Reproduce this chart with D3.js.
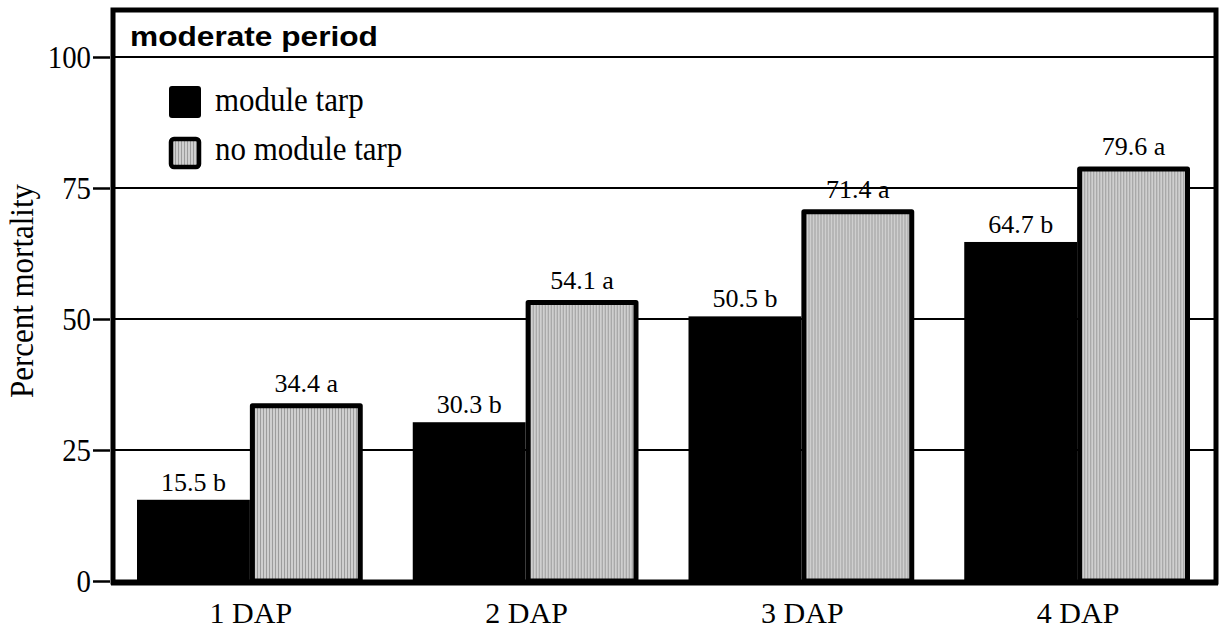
<!DOCTYPE html>
<html>
<head>
<meta charset="utf-8">
<script src="https://cdn.jsdelivr.net/npm/d3@7"></script>
<style>
  body { margin: 0; background: #fff; }
  svg { display: block; }
</style>
</head>
<body>
<script>
const categories = ["1 DAP", "2 DAP", "3 DAP", "4 DAP"];
const seriesNames = ["module tarp", "no module tarp"];
const tarpValues = [15.5, 30.3, 50.5, 64.7];
const noTarpValues = [34.4, 54.1, 71.4, 79.6];
const tarpLetters = ["b", "b", "b", "b"];
const noTarpLetters = ["a", "a", "a", "a"];
const yTicks = [0, 25, 50, 75, 100];
const panelTitle = "moderate period";

const serif = "'Liberation Serif', 'Times New Roman', Times, serif";
const sans = "'Liberation Sans', Arial, Helvetica, sans-serif";

const W = 1219, H = 631;
const margin = {top: 8, right: 3, bottom: 49, left: 113};
const plotW = W - margin.left - margin.right,
      plotH = H - margin.top - margin.bottom;

// the reference type is a little narrower (or wider) than its height
function squeeze(sel, f) {
  sel.each(function() {
    const w = this.getComputedTextLength();
    d3.select(this).attr("textLength", w * f).attr("lengthAdjust", "spacingAndGlyphs");
  });
}

const svg = d3.select("body").append("svg")
    .attr("width", W).attr("height", H);

const defs = svg.append("defs");
const pat = defs.append("pattern")
    .attr("id", "stripes")
    .attr("patternUnits", "userSpaceOnUse")
    .attr("width", 3).attr("height", 3);
pat.append("rect").attr("width", 3).attr("height", 3).attr("fill", "#cfcfcf");
pat.append("rect").attr("width", 1).attr("height", 3).attr("fill", "#9c9c9c");

const chart = svg.append("g")
    .attr("transform", "translate(" + margin.left + "," + margin.top + ")");

// y: 0 at the axis line, 100 at the header divider
const yScale = d3.scaleLinear().domain([0, 100]).range([plotH - 1, 49]);

const xScale = d3.scaleBand().domain(categories).range([0, plotW]).padding(0);
const inner = d3.scaleBand().domain(seriesNames).range([24, xScale.bandwidth() - 26]).padding(0);

// gridlines
chart.selectAll(".grid")
    .data(yTicks.filter(d => d > 0))
    .enter().append("line")
    .attr("x1", 0).attr("x2", plotW)
    .attr("y1", d => yScale(d)).attr("y2", d => yScale(d))
    .attr("stroke", "#000").attr("stroke-width", 2);

const rows = categories.map((c, i) => ({
  cat: c,
  bars: [
    {s: seriesNames[0], v: tarpValues[i], l: tarpLetters[i]},
    {s: seriesNames[1], v: noTarpValues[i], l: noTarpLetters[i]}
  ]
}));

const groups = chart.selectAll(".grp")
    .data(rows).enter().append("g")
    .attr("transform", d => "translate(" + xScale(d.cat) + ",0)");

// black bars are plain; grey bars carry a thick outline drawn inside
groups.selectAll("rect")
    .data(d => d.bars).enter().append("rect")
    .attr("x", d => d.s === seriesNames[0] ? inner(d.s) : inner(d.s) + 2.5)
    .attr("y", d => d.s === seriesNames[0] ? yScale(d.v) : yScale(d.v) + 5)
    .attr("width", d => d.s === seriesNames[0] ? inner.bandwidth() : inner.bandwidth() - 5)
    .attr("height", d => d.s === seriesNames[0] ? yScale(0) - yScale(d.v) : yScale(0) - yScale(d.v) - 5)
    .attr("fill", d => d.s === seriesNames[0] ? "#000" : "url(#stripes)")
    .attr("stroke", d => d.s === seriesNames[0] ? "none" : "#000")
    .attr("stroke-width", 5)
    .attr("stroke-linejoin", "round");

groups.selectAll(".vlab")
    .data(d => d.bars).enter().append("text")
    .attr("x", d => inner(d.s) + inner.bandwidth() / 2)
    .attr("y", d => yScale(d.v) - 9)
    .attr("text-anchor", "middle")
    .style("font-family", serif)
    .style("font-size", "26px")
    .text(d => d.v.toFixed(1) + " " + d.l);

// header strip
const title = chart.append("text")
    .attr("x", 17).attr("y", 38)
    .style("font-family", sans)
    .style("font-weight", "bold")
    .style("font-size", "28px")
    .text(panelTitle);
squeeze(title, 1.13);

// frame
chart.append("rect")
    .attr("x", 0).attr("y", 2)
    .attr("width", plotW).attr("height", plotH - 2)
    .attr("fill", "none").attr("stroke", "#000").attr("stroke-width", 5);
chart.append("line")
    .attr("x1", -2).attr("x2", plotW + 2)
    .attr("y1", plotH + 1).attr("y2", plotH + 1)
    .attr("stroke", "#000").attr("stroke-width", 5);

// y axis
const yAxis = chart.append("g")
    .call(d3.axisLeft(yScale).tickValues(yTicks).tickSize(17).tickPadding(4));
yAxis.select(".domain").remove();
yAxis.selectAll(".tick line").attr("stroke", "#000").attr("stroke-width", 2.5).attr("transform", "translate(-3,0)");
yAxis.selectAll(".tick text")
    .style("font-family", serif)
    .style("font-size", "32px")
    .attr("fill", "#000")
    .attr("dx", "-1").attr("dy", "0.34em");
squeeze(yAxis.selectAll(".tick text"), 0.9);

// x labels
chart.append("g").selectAll(".xlab")
    .data(categories).enter().append("text")
    .attr("x", d => xScale(d) + xScale.bandwidth() / 2)
    .attr("y", plotH + 41)
    .attr("text-anchor", "middle")
    .style("font-family", serif)
    .style("font-size", "30px")
    .text(d => d);

const ylab = svg.append("text")
    .attr("transform", "translate(33,291) rotate(-90)")
    .attr("text-anchor", "middle")
    .style("font-family", serif)
    .style("font-size", "34px")
    .text("Percent mortality");
squeeze(ylab, 0.91);

// legend
const legend = chart.append("g").attr("transform", "translate(56,78)");
const li = legend.selectAll(".li").data(seriesNames).enter().append("g")
    .attr("transform", (d, i) => "translate(0," + i * 51 + ")");
li.append("rect")
    .attr("x", d => d === seriesNames[0] ? 0 : 2)
    .attr("y", d => d === seriesNames[0] ? 0 : 2)
    .attr("width", d => d === seriesNames[0] ? 32 : 28)
    .attr("height", d => d === seriesNames[0] ? 32 : 28)
    .attr("rx", 3)
    .attr("fill", d => d === seriesNames[0] ? "#000" : "url(#stripes)")
    .attr("stroke", d => d === seriesNames[0] ? "none" : "#000")
    .attr("stroke-width", 4.5);
const ltext = li.append("text")
    .attr("x", 46).attr("y", d => d === seriesNames[0] ? 25 : 23)
    .style("font-family", serif)
    .style("font-size", "34px")
    .text(d => d);
squeeze(ltext, 0.91);
</script>
</body>
</html>
